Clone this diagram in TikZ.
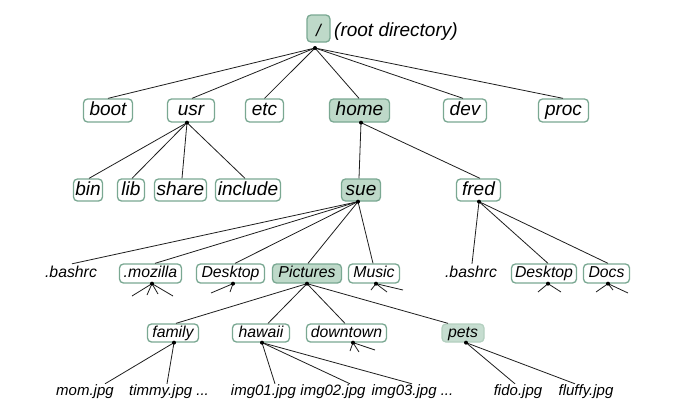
\documentclass[tikz,border=0pt]{standalone}
\usepackage{fontspec}
\setmainfont{Liberation Sans}
\definecolor{bordc}{RGB}{122,168,146}
\definecolor{hlc}{RGB}{190,217,201}
\definecolor{petsc}{RGB}{198,221,208}
\definecolor{petsb}{RGB}{180,208,192}
\definecolor{linec}{RGB}{30,30,30}
\newcommand\dirfontL{\fontsize{19}{22}\selectfont\itshape}
\newcommand\dirfontM{\fontsize{15.8}{18}\selectfont\itshape}
\newcommand\dirfontS{\fontsize{15}{18}\selectfont\itshape}
\tikzset{
  boxbase/.style={draw=bordc, line width=1.3pt, rounded corners=4pt, fill=white, inner sep=0pt},
  boxA/.style={boxbase, font=\dirfontL, text height=14pt, text depth=4pt, minimum height=23pt},
  boxB/.style={boxbase, font=\dirfontL, text height=14pt, text depth=4pt, minimum height=22pt},
  boxC/.style={boxbase, font=\dirfontM, text height=12.5pt, text depth=4.5pt, minimum height=19pt},
  boxD/.style={boxbase, font=\dirfontM, text height=13pt, text depth=4.5pt, minimum height=18pt},
  hl/.style={fill=hlc},
  petsbox/.style={draw=petsb, fill=petsc},
  plainM/.style={font=\dirfontM, anchor=base, inner sep=1.5pt, text height=11.5pt, text depth=3pt},
  plainS/.style={font=\dirfontS, anchor=base, inner sep=0pt, text height=11pt, text depth=3pt},
  conn/.style={draw=linec, line width=0.8pt},
  dot/.style={fill=black}
}
\begin{document}
\begin{tikzpicture}[x=1pt,y=-1pt]
\fill[white] (0,0) rectangle (675,418);
\useasboundingbox (0,0) rectangle (675,418);

% root
\node[boxbase, hl, font=\fontsize{17}{20}\selectfont\itshape, text height=15pt, text depth=0pt, minimum width=23pt, minimum height=27pt] (root) at (318.5,28.5) {/};
\node[anchor=base west, inner sep=0pt, font=\dirfontL] (rootlbl) at (334,36) {(root directory)};

% level 1
\node[boxA, minimum width=49pt] (boot) at (108,110.5) {boot};
\node[boxA, minimum width=47pt] (usr) at (191,110.5) {usr};
\node[boxA, minimum width=38pt] (etc) at (264.5,110.5) {etc};
\node[boxA, hl, minimum width=60pt] (home) at (359.5,110.5) {home};
\node[boxA, minimum width=43pt] (dev) at (465,110.5) {dev};
\node[boxA, minimum width=50pt] (proc) at (563.5,110.5) {proc};

% level 2
\node[boxB, minimum width=29pt] (bin) at (88,190) {bin};
\node[boxB, minimum width=27pt] (lib) at (131,190) {lib};
\node[boxB, minimum width=52pt] (share) at (180.5,190) {share};
\node[boxB, minimum width=65pt] (include) at (248,190) {include};
\node[boxB, hl, minimum width=39pt] (sue) at (361,190) {sue};
\node[boxB, minimum width=44pt] (fred) at (478.5,190) {fred};

% level 3
\node[plainM] (bashrc) at (71,277) {.bashrc};
\node[boxC, minimum width=62pt] (mozilla) at (150.5,273.5) {.mozilla};
\node[boxC, minimum width=68pt] (desktop) at (230.5,273.5) {Desktop};
\node[boxC, hl, minimum width=69pt] (pictures) at (307,273.5) {Pictures};
\node[boxC, minimum width=51pt] (music) at (374,273.5) {Music};
\node[plainM] (bashrcf) at (471,277) {.bashrc};
\node[boxC, minimum width=65pt] (desktopf) at (544,273.5) {Desktop};
\node[boxC, minimum width=46pt] (docs) at (606.5,273.5) {Docs};

% level 4
\node[boxD, minimum width=51pt] (family) at (173,333) {family};
\node[boxD, minimum width=57pt] (hawaii) at (261,333) {hawaii};
\node[boxD, minimum width=80pt] (downtown) at (346.5,333) {downtown};
\node[boxD, petsbox, minimum width=42pt] (pets) at (463,333) {pets};

% level 5
\node[plainS] (mom) at (85,395) {mom.jpg};
\node[plainS] (timmy) at (169,395) {timmy.jpg ...};
\node[plainS] (img01) at (263.5,395) {img01.jpg};
\node[plainS] (img02) at (333,395) {img02.jpg};
\node[plainS] (img03) at (412.5,395) {img03.jpg ...};
\node[plainS] (fido) at (518,395) {fido.jpg};
\node[plainS] (fluffy) at (586,395) {fluffy.jpg};

% junction points
\coordinate (rootd) at (315,48);
\coordinate (usrd) at ([xshift=-4pt]usr.south);
\coordinate (homed) at ([xshift=1.5pt]home.south);
\coordinate (sued) at ([xshift=-3pt]sue.south);
\coordinate (fredd) at ([xshift=0.5pt]fred.south);
\coordinate (mozd) at ([xshift=1.5pt]mozilla.south);
\coordinate (deskd) at ([xshift=2.5pt]desktop.south);
\coordinate (picd) at (pictures.south);
\coordinate (musd) at ([xshift=2pt]music.south);
\coordinate (deskfd) at ([xshift=4pt]desktopf.south);
\coordinate (docsd) at ([xshift=1.5pt]docs.south);
\coordinate (famd) at ([xshift=1pt]family.south);
\coordinate (hawd) at ([xshift=1pt]hawaii.south);
\coordinate (downd) at ([xshift=6.5pt]downtown.south);
\coordinate (petsd) at ([xshift=3pt]pets.south);

% stub ends
\coordinate (m1) at (132,296);
\coordinate (m2) at (147,295);
\coordinate (m3) at (158,294);
\coordinate (m4) at (173,296);
\coordinate (d1) at (211,293);
\coordinate (d2) at (230,292);
\coordinate (u1) at (371,290);
\coordinate (u2) at (387,292);
\coordinate (u3) at (403,290);
\coordinate (f1) at (538,292);
\coordinate (f2) at (561,292);
\coordinate (o1) at (596,292);
\coordinate (o2) at (613,290);
\coordinate (o3) at (628,293);
\coordinate (w1) at (350,351);
\coordinate (w2) at (359,352);
\coordinate (w3) at (375,350);

% connectors root
\draw[conn] (rootd) -- (boot.north);
\draw[conn] (rootd) -- ([xshift=1pt]usr.north);
\draw[conn] (rootd) -- (etc.north);
\draw[conn] (rootd) -- ([xshift=-0.5pt]home.north);
\draw[conn] (rootd) -- ([xshift=-2pt]dev.north);
\draw[conn] (rootd) -- ([xshift=-0.5pt]proc.north);
% usr
\draw[conn] (usrd) -- ([xshift=1pt]bin.north);
\draw[conn] (usrd) -- ([xshift=1pt]lib.north);
\draw[conn] (usrd) -- ([xshift=1.5pt]share.north);
\draw[conn] (usrd) -- ([xshift=-3pt]include.north);
% home
\draw[conn] (homed) -- ([xshift=-2pt]sue.north);
\draw[conn] (homed) -- ([xshift=1.5pt]fred.north);
% sue
\draw[conn] (sued) -- ([xshift=1pt]bashrc.north);
\draw[conn] (sued) -- ([xshift=4.5pt]mozilla.north);
\draw[conn] (sued) -- ([xshift=4.5pt]desktop.north);
\draw[conn] (sued) -- ([xshift=1pt]pictures.north);
\draw[conn] (sued) -- ([xshift=-1pt]music.north);
% fred
\draw[conn] (fredd) -- ([xshift=1pt]bashrcf.north);
\draw[conn] (fredd) -- ([xshift=4pt]desktopf.north);
\draw[conn] (fredd) -- ([xshift=1.5pt]docs.north);
% pictures
\draw[conn] (picd) -- ([xshift=3pt]family.north);
\draw[conn] (picd) -- ([xshift=7pt]hawaii.north);
\draw[conn] (picd) -- ([xshift=-1.5pt]downtown.north);
\draw[conn] (picd) -- ([xshift=-15pt]pets.north);
% family, hawaii, pets
\draw[conn] (famd) -- ([xshift=20pt]mom.north);
\draw[conn] (famd) -- ([xshift=-2pt]timmy.north);
\draw[conn] (hawd) -- ([xshift=11.5pt]img01.north);
\draw[conn] (hawd) -- ([xshift=17pt]img02.north);
\draw[conn] (hawd) -- ([xshift=-0.5pt]img03.north);
\draw[conn] (petsd) -- ([xshift=-3pt]fido.north);
\draw[conn] (petsd) -- ([xshift=-11pt]fluffy.north);
% stubs
\foreach \e in {m1,m2,m3,m4} \draw[conn] (mozd) -- (\e);
\foreach \e in {d1,d2} \draw[conn] (deskd) -- (\e);
\foreach \e in {u1,u2,u3} \draw[conn] (musd) -- (\e);
\foreach \e in {f1,f2} \draw[conn] (deskfd) -- (\e);
\foreach \e in {o1,o2,o3} \draw[conn] (docsd) -- (\e);
\foreach \e in {w1,w2,w3} \draw[conn] (downd) -- (\e);

% dots
\foreach \c in {rootd,usrd,homed,sued,fredd,mozd,deskd,picd,musd,deskfd,docsd,famd,hawd,downd,petsd}
  \fill[dot] (\c) circle (2pt);
\end{tikzpicture}
\end{document}
